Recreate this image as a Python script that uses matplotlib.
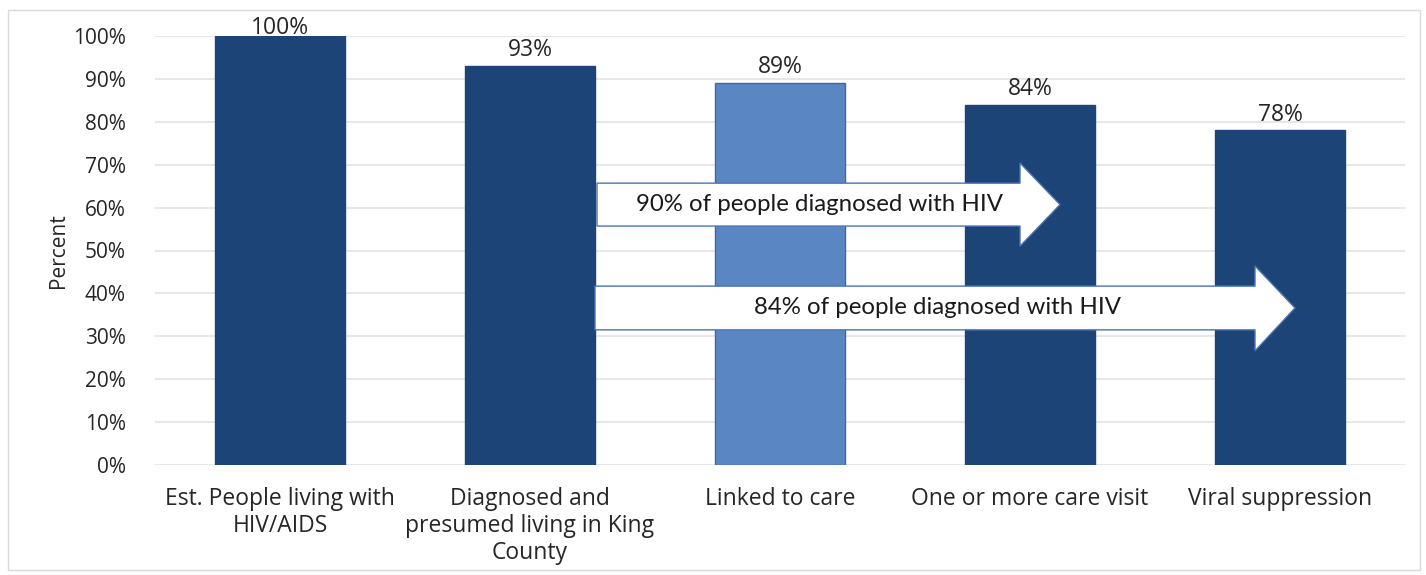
import matplotlib
matplotlib.use("Agg")
import matplotlib.pyplot as plt
from matplotlib.patches import Polygon, Rectangle

categories = ["Est. People living with\nHIV/AIDS",
              "Diagnosed and\npresumed living in King\nCounty",
              "Linked to care",
              "One or more care visit",
              "Viral suppression"]
values = [100, 93, 89, 84, 78]
value_labels = ["100%", "93%", "89%", "84%", "78%"]
bar_colors = ["#1D4477", "#1D4477", "#5B86C4", "#1D4477", "#1D4477"]
edge_colors = ["#1D4477", "#1D4477", "#3E67A3", "#1D4477", "#1D4477"]
yticks = list(range(0, 101, 10))
ytick_labels = [f"{t}%" for t in yticks]
arrow_texts = ["90% of people diagnosed with HIV", "84% of people diagnosed with HIV"]

fig = plt.figure(figsize=(14.26, 5.75), dpi=100)
fig.patches.append(Rectangle((8/1426, 5/575), 1412/1426, 560/575, transform=fig.transFigure,
                             fill=False, edgecolor="#D9D9D9", linewidth=1.0))
ax = fig.add_axes([155/1426, (575-465)/575, 1250/1426, (465-36)/575])

x = list(range(len(categories)))
ax.bar(x, values, width=0.52, color=bar_colors, edgecolor=edge_colors, linewidth=1, zorder=2)
for xi, v, lab in zip(x, values, value_labels):
    ax.text(xi, min(v + 0.9, 99.0), lab, ha="center", va="bottom", fontsize=16.5,
            family="Open Sans", color="#262626", zorder=5, clip_on=False)

ax.set_xlim(-0.5, len(categories) - 0.5)
ax.set_ylim(0, 100)
ax.set_yticks(yticks)
ax.set_yticklabels(ytick_labels, family="Open Sans", fontsize=15, color="#262626")
ax.set_xticks(x)
ax.set_xticklabels(categories, family="Open Sans", fontsize=16.5, color="#262626",
                   linespacing=1.16, va="top")
ax.tick_params(axis="both", length=0)
ax.tick_params(axis="x", pad=16)
ax.tick_params(axis="y", pad=21)
ax.grid(axis="y", color="#E3E3E3", linewidth=1.2, zorder=0)
for s in ax.spines.values():
    s.set_visible(False)
ax.set_ylabel("Percent", family="Open Sans", fontsize=15, color="#262626", labelpad=3)

def draw_arrow(x0, xh, xt, yb0, yb1, yh0, yh1, text, tx):
    ym = (yb0 + yb1) / 2
    pts = [(x0, yb0), (xh, yb0), (xh, yh0), (xt, ym), (xh, yh1), (xh, yb1), (x0, yb1)]
    ax.add_patch(Polygon(pts, closed=True, facecolor="white", edgecolor="#4A73B5",
                         linewidth=1.0, zorder=4, clip_on=False))
    ax.text(tx, ym, text, ha="center", va="center", fontsize=17.3, family="Lato",
            color="#1A1A1A", zorder=5)

draw_arrow(1.268, 2.96, 3.12, 55.7, 65.7, 51.0, 70.4, arrow_texts[0], 2.16)
draw_arrow(1.26, 3.90, 4.06, 31.5, 41.7, 26.6, 46.4, arrow_texts[1], 2.628)

fig.savefig("out.png", dpi=100)
